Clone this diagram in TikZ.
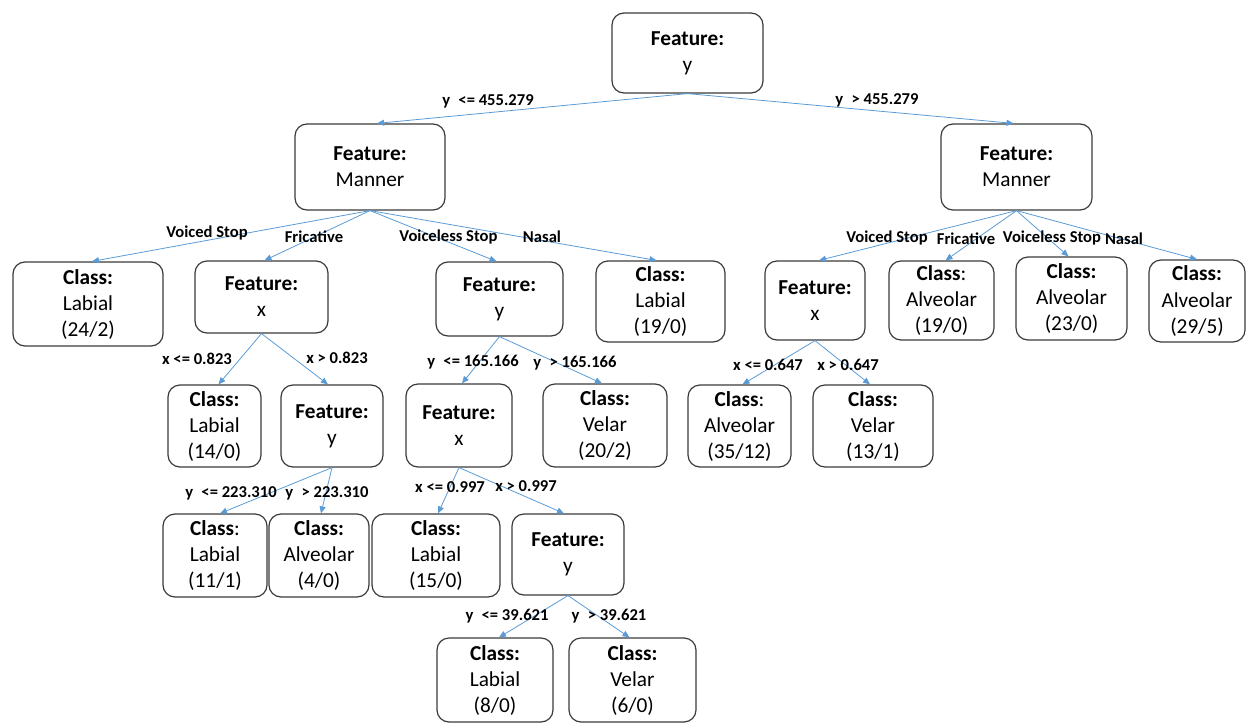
\documentclass[tikz,border=0pt]{standalone}
\usepackage{fontspec}
\setmainfont{Carlito}
\usetikzlibrary{arrows.meta}
\definecolor{edgeblue}{HTML}{5B9BD5}
\definecolor{boxline}{HTML}{3A3A3A}
\newcommand\boxfnt{\fontsize{21.3}{26}\selectfont}
\newcommand\labfnt{\fontsize{16.6}{19}\selectfont\bfseries}
\tikzset{
  tbox/.style={draw=boxline, line width=1.2pt, rounded corners=12pt, align=center,
    inner sep=0pt, font=\boxfnt, text=black},
  sz/.style 2 args={minimum width=#1pt, minimum height=#2pt},
  edge/.style={draw=edgeblue, line width=0.8pt, -{Triangle[length=7pt,width=6pt]}},
  lab/.style={inner sep=0pt, font=\labfnt, text=black}
}
\begin{document}
\begin{tikzpicture}[x=1pt,y=-1pt]
\useasboundingbox (0,0) rectangle (1246,725);
% nodes
\node[tbox,sz={151}{80}] (root) at (687.5,53) {\textbf{Feature:}\\y};
\node[tbox,sz={150}{86}] (mL) at (370,167) {\textbf{Feature:}\\Manner};
\node[tbox,sz={151}{86}] (mR) at (1016.5,167) {\textbf{Feature:}\\Manner};
\node[tbox,sz={150}{84}] (c24) at (88,304) {\textbf{Class:}\\Labial\\(24/2)};
\node[tbox,sz={133}{72}] (fx1) at (261.5,297) {\textbf{Feature:}\\x};
\node[tbox,sz={127}{74}] (fy1) at (499.5,299) {\textbf{Feature:}\\y};
\node[tbox,sz={129}{81}] (c19) at (660.5,301.5) {\textbf{Class:}\\Labial\\(19/0)};
\node[tbox,sz={100}{79}] (fxR) at (815,300.5) {\textbf{Feature:}\\x};
\node[tbox,sz={105}{79}] (a19) at (941.5,300.5) {\textbf{Class}:\\Alveolar\\(19/0)};
\node[tbox,sz={111}{83}] (a23) at (1071.5,298.5) {\textbf{Class:}\\Alveolar\\(23/0)};
\node[tbox,sz={96}{82}] (a29) at (1197,301) {\textbf{Class:}\\Alveolar\\(29/5)};
\node[tbox,sz={93}{82}] (c14) at (214.5,426) {\textbf{Class:}\\Labial\\(14/0)};
\node[tbox,sz={102}{82}] (fy2) at (332,426) {\textbf{Feature:}\\y};
\node[tbox,sz={106}{83}] (fx2) at (459,425.5) {\textbf{Feature:}\\x};
\node[tbox,sz={124}{83}] (v20) at (605,425.5) {\textbf{Class:}\\Velar\\(20/2)};
\node[tbox,sz={103}{82}] (a35) at (739.5,426) {\textbf{Class}:\\Alveolar\\(35/12)};
\node[tbox,sz={120}{82}] (v13) at (873,426) {\textbf{Class:}\\Velar\\(13/1)};
\node[tbox,sz={104}{83}] (c11) at (215,555.5) {\textbf{Class}:\\Labial\\(11/1)};
\node[tbox,sz={100}{83}] (a4) at (319,555.5) {\textbf{Class:}\\Alveolar\\(4/0)};
\node[tbox,sz={128}{83}] (c15) at (436,555.5) {\textbf{Class:}\\Labial\\(15/0)};
\node[tbox,sz={112}{81}] (fy3) at (568,554.5) {\textbf{Feature:}\\y};
\node[tbox,sz={116}{84}] (c8) at (495,680) {\textbf{Class:}\\Labial\\(8/0)};
\node[tbox,sz={127}{84}] (v6) at (632.5,680) {\textbf{Class:}\\Velar\\(6/0)};
% edges
\draw[edge] (root.south) -- ([xshift=7pt]mL.north);
\draw[edge] (root.south) -- ([xshift=-3pt]mR.north);
\draw[edge] (mL.south) -- ([xshift=4pt]c24.north);
\draw[edge] (mL.south) -- ([xshift=3pt]fx1.north);
\draw[edge] (mL.south) -- ([xshift=-3pt]fy1.north);
\draw[edge] (mL.south) -- ([xshift=-4pt]c19.north);
\draw[edge] (mR.south) -- ([xshift=4pt]fxR.north);
\draw[edge] (mR.south) -- ([xshift=4pt]a19.north);
\draw[edge] (mR.south) -- ([xshift=-3pt]a23.north);
\draw[edge] (mR.south) -- (a29.north);
\draw[edge] (fx1.south) -- ([xshift=4pt]c14.north);
\draw[edge] (fx1.south) -- ([xshift=-4pt]fy2.north);
\draw[edge] (fy1.south) -- ([xshift=3pt]fx2.north);
\draw[edge] (fy1.south) -- ([xshift=-3pt]v20.north);
\draw[edge] (fxR.south) -- ([xshift=3pt]a35.north);
\draw[edge] (fxR.south) -- ([xshift=-3pt]v13.north);
\draw[edge] (fy2.south) -- ([xshift=5pt]c11.north);
\draw[edge] (fy2.south) -- ([xshift=2pt]a4.north);
\draw[edge] (fx2.south) -- ([xshift=2pt]c15.north);
\draw[edge] (fx2.south) -- ([xshift=-4pt]fy3.north);
\draw[edge] (fy3.south) -- ([xshift=4pt]c8.north);
\draw[edge] (fy3.south) -- ([xshift=-3pt]v6.north);
% labels
\node[lab] (l1) at (488,101) {y\enspace<= 455.279};
\node[lab] (l2) at (877,100) {y\enspace> 455.279};
\node[lab] (l3) at (207,233) {Voiced Stop};
\node[lab] (l4) at (314,237) {Fricative};
\node[lab] (l5) at (448.5,237) {Voiceless Stop};
\node[lab] (l6) at (542,237) {Nasal};
\node[lab] (l7) at (887,238) {Voiced Stop};
\node[lab] (l8) at (966,239) {Fricative};
\node[lab] (l9) at (1052,238) {Voiceless Stop};
\node[lab] (l10) at (1124,239) {Nasal};
\node[lab] (l11) at (197,359) {x <= 0.823};
\node[lab] (l12) at (337,358) {x > 0.823};
\node[lab] (l13) at (473,362) {y\enspace<= 165.166};
\node[lab] (l14) at (575,363) {y\enspace> 165.166};
\node[lab] (l15) at (768,365) {x <= 0.647};
\node[lab] (l16) at (848,365) {x > 0.647};
\node[lab] (l17) at (231,493) {y\enspace<= 223.310};
\node[lab] (l18) at (327,493) {y\enspace> 223.310};
\node[lab] (l19) at (450,487) {x <= 0.997};
\node[lab] (l20) at (526,486) {x > 0.997};
\node[lab] (l21) at (507,616) {y\enspace<= 39.621};
\node[lab] (l22) at (609,616) {y\enspace> 39.621};
\end{tikzpicture}
\end{document}
